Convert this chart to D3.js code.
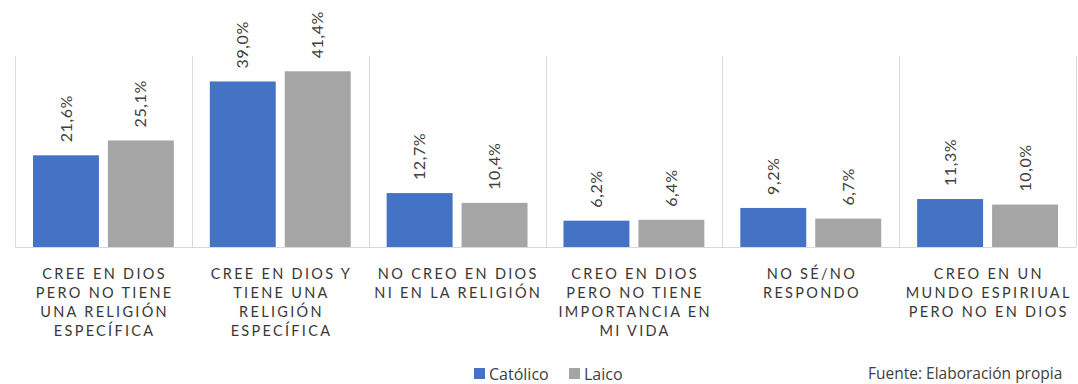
<!DOCTYPE html>
<html>
<head>
<meta charset="utf-8">
<script src="https://cdn.jsdelivr.net/npm/d3@7"></script>
<style>
  html, body { margin: 0; padding: 0; background: #ffffff; }
  svg { display: block; }
</style>
</head>
<body>
<svg id="chart" width="1078" height="384"></svg>
<script>
// Category labels, already broken into lines as printed under each group
const categories = [
  ["CREE EN DIOS", "PERO NO TIENE", "UNA RELIGIÓN", "ESPECÍFICA"],
  ["CREE EN DIOS Y", "TIENE UNA", "RELIGIÓN", "ESPECÍFICA"],
  ["NO CREO EN DIOS", "NI EN LA RELIGIÓN"],
  ["CREO EN DIOS", "PERO NO TIENE", "IMPORTANCIA EN", "MI VIDA"],
  ["NO SÉ/NO", "RESPONDO"],
  ["CREO EN UN", "MUNDO ESPIRIUAL", "PERO NO EN DIOS"]
];
const seriesNames = ["Católico", "Laico"];
const catolico = [21.6, 39.0, 12.7, 6.2, 9.2, 11.3];
const laico = [25.1, 41.4, 10.4, 6.4, 6.7, 10.0];
const seriesColors = ["#4472C4", "#A5A5A5"];
const sourceNote = "Fuente: Elaboración propia";

const svg = d3.select("#chart");
const plotLeft = 15, plotRight = 1076, plotTop = 56, plotBottom = 247;

const catIdx = d3.range(categories.length);
const x0 = d3.scaleBand().domain(catIdx).range([plotLeft, plotRight]).paddingInner(0).paddingOuter(0);
const x1 = d3.scaleBand().domain(seriesNames).range([0, x0.bandwidth()])
  .paddingInner(0.12).paddingOuter(0.24);
const y = d3.scaleLinear().domain([0, 45]).range([plotBottom, plotTop]);
const color = d3.scaleOrdinal().domain(seriesNames).range(seriesColors);

const rows = catIdx.map(i => ({ i, values: [
  { name: seriesNames[0], v: catolico[i] },
  { name: seriesNames[1], v: laico[i] }
]}));

// Vertical separators between groups
const seps = d3.range(categories.length + 1).map(k => Math.round(plotLeft + k * x0.step()) + 0.5);
svg.append("g").selectAll("line").data(seps).join("line")
  .attr("x1", d => d).attr("x2", d => d)
  .attr("y1", plotTop).attr("y2", plotBottom)
  .attr("stroke", "#d9d9d9").attr("stroke-width", 1);

// Bars
const groups = svg.append("g").selectAll("g").data(rows).join("g")
  .attr("transform", d => `translate(${x0(d.i)},0)`);

groups.selectAll("rect").data(d => d.values).join("rect")
  .attr("x", d => x1(d.name))
  .attr("y", d => y(d.v))
  .attr("width", x1.bandwidth())
  .attr("height", d => y(0) - y(d.v))
  .attr("fill", d => color(d.name));

// Rotated value labels above each bar
groups.selectAll("text").data(d => d.values).join("text")
  .attr("transform", d => `translate(${x1(d.name) + x1.bandwidth() / 2},${y(d.v) - 13}) rotate(-90)`)
  .attr("text-anchor", "start")
  .attr("dy", "0.35em")
  .attr("font-family", "Lato, 'Open Sans', sans-serif")
  .attr("font-size", 16)
  .attr("letter-spacing", 0.6)
  .attr("fill", "#404040")
  .text(d => d.v.toFixed(1).replace(".", ",") + "%");

// Baseline
svg.append("line")
  .attr("x1", plotLeft).attr("x2", plotRight)
  .attr("y1", plotBottom + 0.5).attr("y2", plotBottom + 0.5)
  .attr("stroke", "#d9d9d9").attr("stroke-width", 1);

// Category labels
const catLabels = svg.append("g").selectAll("text").data(categories).join("text")
  .attr("font-family", "Lato, 'Open Sans', sans-serif")
  .attr("font-size", 14.5)
  .attr("letter-spacing", 2.3)
  .attr("fill", "#383838")
  .attr("text-anchor", "middle");
catLabels.each(function(lines, i) {
  const cx = x0(i) + x0.bandwidth() / 2 + 1.2;
  d3.select(this).selectAll("tspan").data(lines).join("tspan")
    .attr("x", cx)
    .attr("y", (d, k) => 278.5 + k * 19)
    .text(d => d);
});

// Legend
const legend = svg.append("g").attr("font-family", "'Open Sans', sans-serif").attr("font-size", 16).attr("fill", "#404040");
const legendX = [474, 569];
seriesNames.forEach((name, k) => {
  legend.append("rect")
    .attr("x", legendX[k]).attr("y", 368)
    .attr("width", 11).attr("height", 11)
    .attr("fill", seriesColors[k]);
  legend.append("text")
    .attr("x", legendX[k] + 15).attr("y", 379.5)
    .text(name);
});

// Source note
svg.append("text")
  .attr("x", 868).attr("y", 379)
  .attr("font-family", "'Open Sans', sans-serif")
  .attr("font-size", 15.5)
  .attr("fill", "#404040")
  .text(sourceNote);
</script>
</body>
</html>
